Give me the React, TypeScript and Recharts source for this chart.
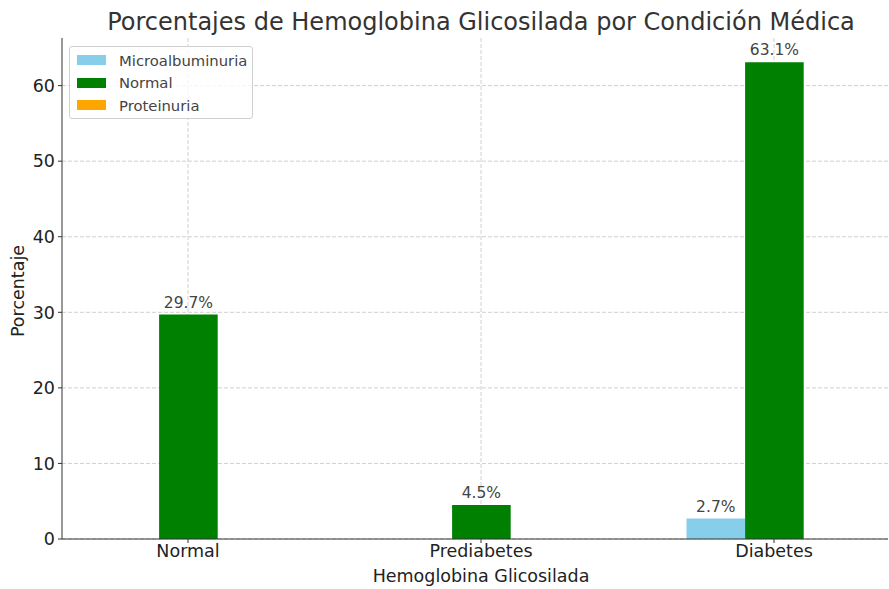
import { Bar, BarChart, CartesianGrid, LabelList, XAxis, YAxis } from "recharts";

const categories = ["Normal", "Prediabetes", "Diabetes"];
const microalbuminuria = [0, 0, 2.7];
const normal = [29.7, 4.5, 63.1];
const proteinuria = [0, 0, 0];
const yTicks = [0, 10, 20, 30, 40, 50, 60];

const series = [
  { key: "micro", name: "Microalbuminuria", color: "#87ceeb" },
  { key: "normal", name: "Normal", color: "#008000" },
  { key: "prot", name: "Proteinuria", color: "#ffa500" },
];

const data = categories.map((c, i) => ({
  name: c,
  micro: microalbuminuria[i],
  normal: normal[i],
  prot: proteinuria[i],
}));

const font = "'DejaVu Sans', sans-serif";

const fmt = (v: any) => (v ? `${v}%` : "");

export default function App() {
  return (
    <div
      style={{
        position: "absolute",
        left: 0,
        top: 0,
        width: 889,
        height: 589,
        background: "#fff",
        fontFamily: font,
        overflow: "hidden",
      }}
    >
      <BarChart
        width={889}
        height={589}
        data={data}
        barGap={0}
        barSize={58.6}
        margin={{ top: 38, right: 1, left: 0, bottom: 0 }}
        style={{ fontFamily: font }}
      >
        <CartesianGrid
          stroke="#d0d0d0"
          strokeDasharray="4 2"
          horizontalValues={yTicks}
          verticalValues={categories}
        />
        <XAxis
          dataKey="name"
          height={50}
          padding={{ left: -20.5, right: -32.5 }}
          stroke="#333"
          tickSize={4}
          tickMargin={2}
          tick={{ fill: "#222", fontSize: 17.5 }}
        />
        <YAxis
          width={62}
          domain={[0, 66.3]}
          ticks={yTicks}
          allowDataOverflow
          stroke="#333"
          tickSize={4}
          tickMargin={3}
          tick={{ fill: "#222", fontSize: 17.5 }}
        />
        {series.map((s) => (
          <Bar key={s.key} dataKey={s.key} name={s.name} fill={s.color} isAnimationActive={false}>
            <LabelList
              dataKey={s.key}
              position="top"
              offset={7}
              formatter={fmt}
              style={{ fill: "#444", fontSize: 15.5 }}
            />
          </Bar>
        ))}
      </BarChart>

      <div
        style={{
          position: "absolute",
          left: 0,
          width: 962,
          top: 7,
          textAlign: "center",
          fontSize: 24,
          lineHeight: "30px",
          color: "#333",
          whiteSpace: "nowrap",
        }}
      >
        Porcentajes de Hemoglobina Glicosilada por Condición Médica
      </div>

      <div
        style={{
          position: "absolute",
          left: 0,
          width: 962,
          top: 565,
          textAlign: "center",
          fontSize: 17.5,
          lineHeight: "22px",
          color: "#222",
        }}
      >
        Hemoglobina Glicosilada
      </div>

      <div
        style={{
          position: "absolute",
          left: 18,
          top: 291,
          transform: "translate(-50%, -50%) rotate(-90deg)",
          fontSize: 17.5,
          color: "#222",
          whiteSpace: "nowrap",
        }}
      >
        Porcentaje
      </div>

      <div
        style={{
          position: "absolute",
          left: 69,
          top: 46,
          width: 184,
          height: 73,
          boxSizing: "border-box",
          border: "1px solid #d0d0d0",
          borderRadius: 3,
          background: "rgba(255,255,255,0.8)",
          padding: "2px 0 0 7px",
        }}
      >
        {series.map((s) => (
          <div key={s.key} style={{ display: "flex", alignItems: "center", height: 22.5 }}>
            <span style={{ width: 29, height: 10, background: s.color, display: "inline-block" }} />
            <span style={{ marginLeft: 13, fontSize: 14.8, color: "#444" }}>{s.name}</span>
          </div>
        ))}
      </div>
    </div>
  );
}
